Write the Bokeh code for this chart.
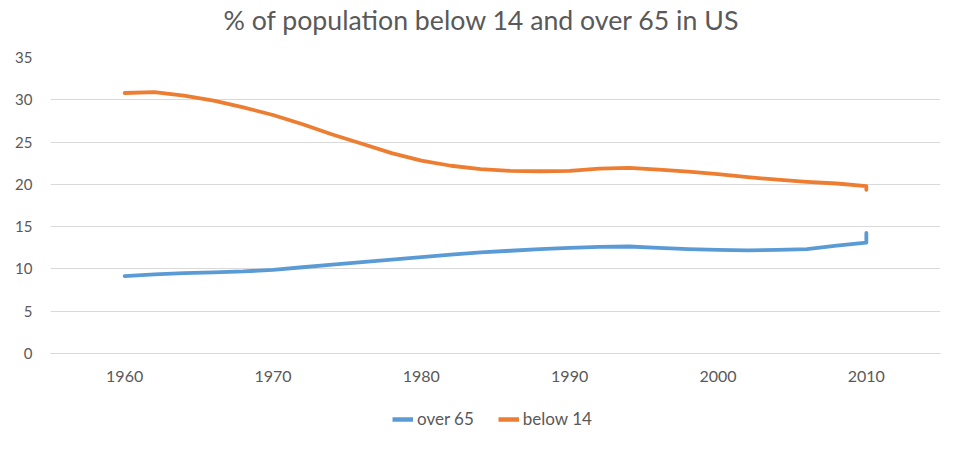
from bokeh.plotting import figure
from bokeh.layouts import column
from bokeh.models import FixedTicker, Legend, LegendItem, Range1d, Title
from bokeh.embed import file_html
from bokeh.resources import INLINE

# Data (percent of population)
years = [1960, 1962, 1964, 1966, 1968, 1970, 1972, 1974, 1976, 1978, 1980, 1982,
         1984, 1986, 1988, 1990, 1992, 1994, 1996, 1998, 2000, 2002, 2004, 2006,
         2008, 2010, 2010]
over_65 = [9.15, 9.35, 9.5, 9.6, 9.7, 9.9, 10.2, 10.5, 10.8, 11.1, 11.4, 11.7,
           11.95, 12.15, 12.35, 12.5, 12.6, 12.65, 12.5, 12.35, 12.25, 12.2, 12.25, 12.35,
           12.75, 13.1, 14.25]
below_14 = [30.8, 30.9, 30.5, 29.9, 29.1, 28.2, 27.1, 25.9, 24.8, 23.7, 22.8, 22.2,
            21.8, 21.6, 21.55, 21.6, 21.85, 21.95, 21.75, 21.5, 21.2, 20.85, 20.55, 20.3,
            20.1, 19.8, 19.35]
series_names = ["over 65", "below 14"]
series_values = [over_65, below_14]
x_ticks = [1960, 1970, 1980, 1990, 2000, 2010]
y_ticks = [0, 5, 10, 15, 20, 25, 30, 35]

FONT = "Lato"
TXT = "#595959"
GRID = "#d9d9d9"
COLORS = ["#5b9bd5", "#ed7d31"]

p = figure(width=945, height=395, output_backend="svg", toolbar_location=None,
           x_range=Range1d(1955, 2015), y_range=Range1d(0, 35),
           min_border_left=50, min_border_right=5, min_border_top=57, min_border_bottom=42)
p.title.text = "% of population below 14 and over 65 in US"
p.title.align = "left"
p.title.offset = 173
p.title.text_font = FONT
p.title.text_font_size = "26.7px"
p.title.text_font_style = "normal"
p.title.text_color = TXT
p.title.standoff = 2
# empty spacer title between the main title and the plot frame
p.add_layout(Title(text=" ", text_font_size="12px", standoff=5), "above")
p.outline_line_color = None

for vals, c in zip(series_values, COLORS):
    p.line(years, vals, line_color=c, line_width=3.8, line_join="round", line_cap="round")

p.xaxis.ticker = FixedTicker(ticks=x_ticks)
p.yaxis.ticker = FixedTicker(ticks=y_ticks)
p.xgrid.grid_line_color = None
p.ygrid.grid_line_color = GRID
p.ygrid.grid_line_width = 1.2
for ax in (p.xaxis, p.yaxis):
    ax.major_tick_line_color = None
    ax.minor_tick_line_color = None
    ax.major_label_text_font = FONT
    ax.major_label_text_color = TXT
p.xaxis.major_label_text_font_size = "16px"
p.yaxis.major_label_text_font_size = "15px"
p.yaxis.axis_line_color = None
p.xaxis.axis_line_color = GRID
p.xaxis.axis_line_width = 1.2
p.xaxis.major_label_standoff = 11
p.yaxis.major_label_standoff = 12

# Legend strip below the chart (its lines lie outside this strip's view)
lg = figure(width=945, height=39, output_backend="svg", toolbar_location=None,
            x_range=Range1d(0, 1), y_range=Range1d(0, 1), min_border=0,
            min_border_left=0, min_border_right=0, min_border_top=0, min_border_bottom=0)
lg.axis.visible = False
lg.grid.visible = False
lg.outline_line_color = None
items = []
for name, vals, c in zip(series_names, series_values, COLORS):
    rr = lg.line(years, vals, line_color=c, line_width=4.5)
    items.append(LegendItem(label=name, renderers=[rr]))
legend = Legend(items=items, orientation="horizontal", location=(342, 5),
                border_line_color=None, background_fill_alpha=0,
                label_text_font=FONT, label_text_font_size="17px", label_text_color=TXT,
                glyph_width=21, label_standoff=4, spacing=24, margin=0, padding=4)
lg.add_layout(legend, "center")

layout = column(p, lg, spacing=0)
open("out.html", "w").write(file_html(layout, INLINE))
